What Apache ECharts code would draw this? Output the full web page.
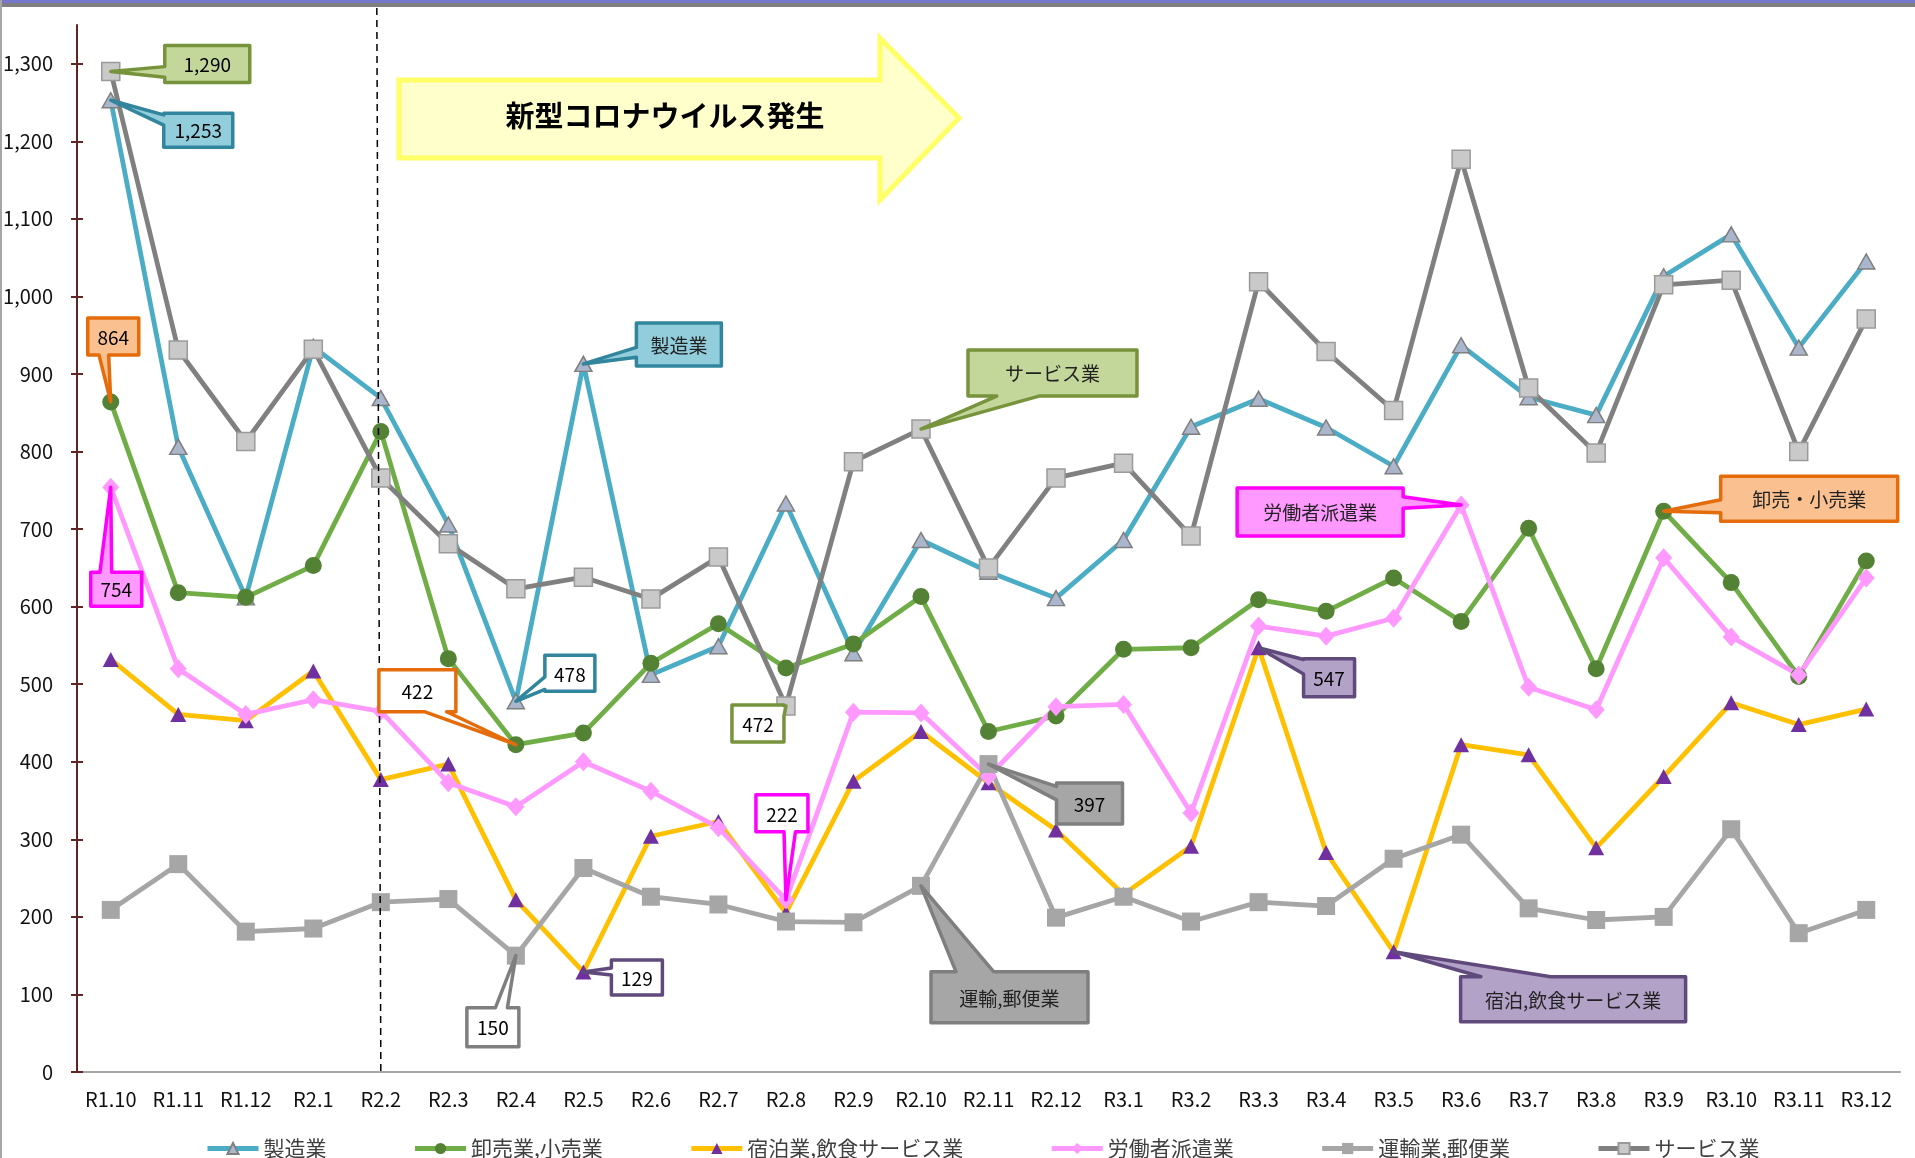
<!DOCTYPE html>
<html lang="ja">
<head>
<meta charset="utf-8">
<title>業種別推移</title>
<script src="https://cdn.jsdelivr.net/npm/echarts@6/dist/echarts.min.js"></script>
<style>
  html, body { margin: 0; padding: 0; background: #fff; }
  #chart { width: 1915px; height: 1158px; }
</style>
</head>
<body>
<div id="chart"></div>
<script>
const months = ['R1.10', 'R1.11', 'R1.12',
  'R2.1', 'R2.2', 'R2.3', 'R2.4', 'R2.5', 'R2.6', 'R2.7', 'R2.8', 'R2.9', 'R2.10', 'R2.11', 'R2.12',
  'R3.1', 'R3.2', 'R3.3', 'R3.4', 'R3.5', 'R3.6', 'R3.7', 'R3.8', 'R3.9', 'R3.10', 'R3.11', 'R3.12']
const yTicks = [0, 100, 200, 300, 400, 500, 600, 700, 800, 900, 1000, 1100, 1200, 1300]

const seriesNames = ['製造業', '卸売業,小売業', '宿泊業,飲食サービス業', '労働者派遣業', '運輸業,郵便業', 'サービス業']
const manufacturing = [1253, 806, 612, 935, 869, 706, 478, 913, 512, 549, 733, 540, 686, 645, 611, 686, 832, 868, 831, 781, 937, 870, 847, 1026, 1080, 934, 1045]
const wholesale = [864, 618, 612, 653, 826, 533, 422, 437, 527, 578, 521, 552, 613, 439, 459, 545, 547, 609, 594, 637, 581, 701, 520, 723, 631, 510, 659]
const lodging = [532, 461, 453, 517, 377, 397, 222, 129, 304, 323, 205, 375, 439, 373, 312, 229, 291, 547, 283, 155, 422, 409, 289, 381, 476, 448, 468]
const dispatch = [754, 520, 461, 480, 465, 373, 342, 400, 362, 315, 222, 464, 463, 381, 471, 474, 334, 575, 562, 585, 731, 496, 467, 663, 561, 512, 637]
const transport = [209, 268, 181, 185, 219, 223, 150, 263, 226, 216, 194, 193, 240, 397, 199, 226, 194, 219, 214, 275, 306, 211, 196, 200, 313, 179, 209]
const service = [1290, 931, 813, 932, 766, 681, 623, 638, 610, 664, 472, 787, 829, 650, 766, 785, 691, 1019, 929, 853, 1177, 882, 798, 1015, 1021, 800, 971]
const seriesData = [manufacturing, wholesale, lodging, dispatch, transport, service]

// callouts: series / point, box offset from the point, size, wedge edge and span along it
const callouts = [
  { s: 5, i: 0, dx: 54, dy: -26, w: 85, h: 37, edge: 'l', a: 0.57, b: 0.86, fill: '#c4d79b', stroke: '#77933c' },
  { s: 0, i: 0, dx: 53, dy: 13, w: 69, h: 34, edge: 'l', a: 0.05, b: 0.35, fill: '#92cddc', stroke: '#31859c' },
  { s: 1, i: 0, dx: -23, dy: -84, w: 51, h: 37, edge: 'b', a: 0.22, b: 0.41, fill: '#fac090', stroke: '#e46c0a' },
  { s: 3, i: 0, dx: -20, dy: 85, w: 51, h: 34, edge: 't', a: 0.18, b: 0.41, fill: '#ff99ff', stroke: '#ff00ff' },
  { s: 1, i: 6, dx: -137, dy: -75, w: 77, h: 42, edge: 'b', a: 0.59, b: 0.88, fill: '#ffffff', stroke: '#e46c0a' },
  { s: 0, i: 6, dx: 29, dy: -46, w: 50, h: 36, edge: 'l', a: 0.6, b: 0.95, fill: '#ffffff', stroke: '#31859c' },
  { s: 4, i: 6, dx: -49, dy: 52, w: 52, h: 39, edge: 't', a: 0.55, b: 0.78, fill: '#ffffff', stroke: '#7f7f7f' },
  { s: 2, i: 7, dx: 28, dy: -12, w: 51, h: 35, edge: 'l', a: 0.23, b: 0.43, fill: '#ffffff', stroke: '#604a7b' },
  { s: 0, i: 7, text: '製造業', dx: 53, dy: -41, w: 85, h: 43, edge: 'l', a: 0.57, b: 0.8, fill: '#92cddc', stroke: '#31859c' },
  { s: 5, i: 10, dx: -54, dy: -1, w: 52, h: 37, edge: 'r', a: 0.02, b: 0.3, fill: '#ffffff', stroke: '#77933c' },
  { s: 3, i: 10, dx: -30, dy: -105, w: 52, h: 37, edge: 'b', a: 0.54, b: 0.76, fill: '#ffffff', stroke: '#ff00ff' },
  { s: 5, i: 12, text: 'サービス業', dx: 47, dy: -79, w: 169, h: 46, edge: 'b', a: 0.17, b: 0.42, fill: '#c4d79b', stroke: '#77933c' },
  { s: 4, i: 13, dx: 68, dy: 19, w: 66, h: 41, edge: 'l', a: 0.08, b: 0.41, fill: '#a6a6a6', stroke: '#7f7f7f' },
  { s: 4, i: 12, text: '運輸,郵便業', dx: 10, dy: 86, w: 157, h: 51, edge: 't', a: 0.16, b: 0.4, fill: '#a6a6a6', stroke: '#7f7f7f' },
  { s: 2, i: 17, dx: 45, dy: 11, w: 51, h: 38, edge: 'l', a: 0.02, b: 0.4, fill: '#b3a2c7', stroke: '#604a7b' },
  { s: 3, i: 20, text: '労働者派遣業', dx: -224, dy: -17, w: 166, h: 48, edge: 'r', a: 0.18, b: 0.42, fill: '#ff99ff', stroke: '#ff00ff' },
  { s: 1, i: 23, text: '卸売・小売業', dx: 57, dy: -35, w: 177, h: 45, edge: 'l', a: 0.52, b: 0.81, fill: '#fac090', stroke: '#e46c0a' },
  { s: 2, i: 19, text: '宿泊,飲食サービス業', dx: 67, dy: 25, w: 225, h: 45, edge: 't', a: 0.09, b: 0.4, fill: '#b3a2c7', stroke: '#604a7b' },
]

const FONT = '"Noto Sans CJK JP", "Noto Sans", sans-serif'
const fmt = (v) => v.toLocaleString('en-US')

function lineSeries(idx, line, symbol, size, fill, border) {
  return {
    name: seriesNames[idx],
    type: 'line',
    data: seriesData[idx],
    symbol,
    symbolSize: size,
    lineStyle: { color: line, width: 4.8 },
    itemStyle: { color: fill, borderColor: border || fill, borderWidth: border ? 1.5 : 0 },
    emphasis: { disabled: true },
  }
}

const chart = echarts.init(document.getElementById('chart'))

chart.setOption({
  animation: false,
  backgroundColor: '#fff',
  grid: { left: 77, right: 15, top: 25, bottom: 86, outerBoundsMode: 'none' },
  legend: {
    left: 200,
    top: 1133,
    itemWidth: 51,
    itemHeight: 14,
    itemGap: 86,
    lineStyle: { width: 5 },
    textStyle: { fontSize: 21, color: '#404040', fontFamily: FONT },
    data: seriesNames,
  },
  xAxis: [
    {
      type: 'category',
      data: months,
      axisLine: { lineStyle: { color: '#a6a6a6', width: 2 } },
      axisTick: { length: 6, lineStyle: { color: '#a6a6a6', width: 2 } },
      axisLabel: { interval: 0, margin: 17, fontSize: 20, color: '#111', fontFamily: FONT },
    },
    {
      type: 'category',
      data: months,
      position: 'bottom',
      offset: 0,
      axisLine: { show: false },
      axisTick: { inside: true, alignWithLabel: true, length: 6, lineStyle: { color: '#a6a6a6', width: 2 } },
      axisLabel: { show: false },
    },
  ],
  yAxis: [
    {
      type: 'value',
      min: 0,
      max: 1350,
      interval: 100,
      splitLine: { show: false },
      axisLine: { show: true, lineStyle: { color: '#632523', width: 2 } },
      axisTick: { show: true, length: 6, customValues: yTicks, lineStyle: { color: '#632523', width: 2 } },
      axisLabel: { customValues: yTicks, formatter: fmt, margin: 24, fontSize: 20, color: '#111', fontFamily: FONT },
    },
    {
      type: 'value',
      min: 0,
      max: 1350,
      interval: 100,
      position: 'left',
      offset: 0,
      splitLine: { show: false },
      axisLine: { show: false },
      axisTick: { show: true, inside: true, length: 6, customValues: yTicks, lineStyle: { color: '#632523', width: 2 } },
      axisLabel: { show: false },
    },
  ],
  series: [
    lineSeries(0, '#4bacc6', 'triangle', [17, 15], '#a9b6cc', '#7f7f7f'),
    lineSeries(1, '#70ad47', 'circle', 17, '#548235'),
    lineSeries(2, '#ffc000', 'triangle', [16, 15], '#7030a0'),
    lineSeries(3, '#ff99ff', 'diamond', [17, 19], '#ff99ff'),
    lineSeries(4, '#a6a6a6', 'rect', 18, '#a6a6a6'),
    lineSeries(5, '#808080', 'rect', 18, '#c9c9c9', '#9a9a9a'),
  ],
})

function calloutPoints(px, py, c) {
  const x0 = px + c.dx, y0 = py + c.dy, x1 = x0 + c.w, y1 = y0 + c.h
  const pts = [[x0, y0]]
  if (c.edge === 't') pts.push([x0 + c.a * c.w, y0], [px, py], [x0 + c.b * c.w, y0])
  pts.push([x1, y0])
  if (c.edge === 'r') pts.push([x1, y0 + c.a * c.h], [px, py], [x1, y0 + c.b * c.h])
  pts.push([x1, y1])
  if (c.edge === 'b') pts.push([x0 + c.b * c.w, y1], [px, py], [x0 + c.a * c.w, y1])
  pts.push([x0, y1])
  if (c.edge === 'l') pts.push([x0, y0 + c.b * c.h], [px, py], [x0, y0 + c.a * c.h])
  return pts
}

const graphics = []

// frame
graphics.push({ type: 'rect', shape: { x: 0, y: 0, width: 1915, height: 3 }, style: { fill: '#7676cc' }, z: 100 })
graphics.push({ type: 'rect', shape: { x: 0, y: 3, width: 1915, height: 4 }, style: { fill: '#808080' }, z: 100 })
graphics.push({ type: 'rect', shape: { x: 0, y: 0, width: 2, height: 1158 }, style: { fill: '#a6a6a6' }, z: 100 })

// dashed marker at R2.2
const xR22 = chart.convertToPixel({ xAxisIndex: 0 }, 'R2.2')
const yZero = chart.convertToPixel({ yAxisIndex: 0 }, 0)
graphics.push({
  type: 'line',
  shape: { x1: xR22 - 4, y1: 8, x2: xR22, y2: yZero },
  style: { stroke: '#000', lineWidth: 1.5, lineDash: [7, 5] },
  z: 90,
})

// arrow
graphics.push({
  type: 'polygon',
  shape: { points: [[399, 80], [880, 80], [880, 38], [959, 118], [880, 200], [880, 158], [399, 158]] },
  style: { fill: '#ffffcc', stroke: '#ffff66', lineWidth: 5 },
  z: 95,
})
graphics.push({
  type: 'text',
  x: 665, y: 116,
  style: { text: '新型コロナウイルス発生', font: 'bold 29px ' + FONT, fill: '#000', align: 'center', verticalAlign: 'middle' },
  z: 96,
})

// callouts
callouts.forEach((c) => {
  const [px, py] = chart.convertToPixel({ seriesIndex: c.s }, [months[c.i], seriesData[c.s][c.i]])
  graphics.push({
    type: 'polygon',
    shape: { points: calloutPoints(px, py, c) },
    style: { fill: c.fill, stroke: c.stroke, lineWidth: 3.5, lineJoin: 'round' },
    z: 97,
  })
  graphics.push({
    type: 'text',
    x: px + c.dx + c.w / 2,
    y: py + c.dy + c.h / 2 + 1,
    style: {
      text: c.text || fmt(seriesData[c.s][c.i]),
      font: '19px ' + FONT,
      fill: c.text ? '#222' : '#000',
      align: 'center',
      verticalAlign: 'middle',
    },
    z: 98,
  })
})

chart.setOption({ graphic: graphics })
</script>
</body>
</html>
